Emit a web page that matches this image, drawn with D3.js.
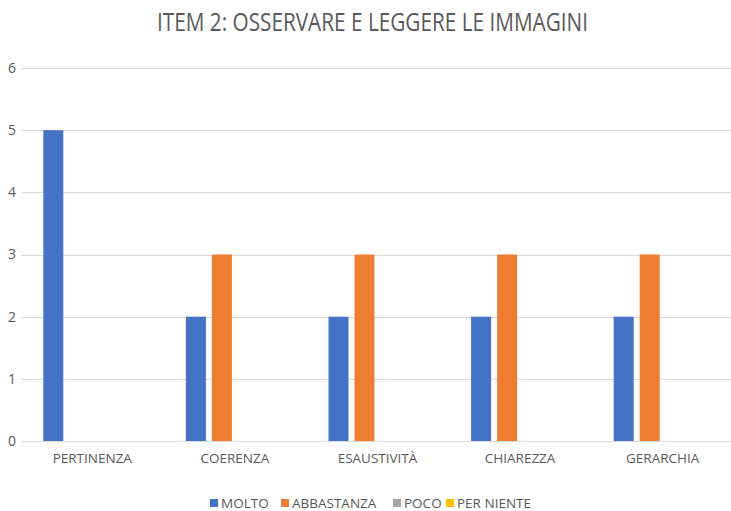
<!DOCTYPE html>
<meta charset="utf-8">
<style>
body { margin: 0; background: #fff; }
svg { display: block; }
text { font-family: "Open Sans", sans-serif; fill: #595959; }
.grid line { stroke: #d9d9d9; stroke-width: 1; shape-rendering: crispEdges; }
</style>
<svg width="731" height="511"></svg>
<script src="https://cdn.jsdelivr.net/npm/d3@7"></script>
<script>

var categories = ["PERTINENZA", "COERENZA", "ESAUSTIVITÀ", "CHIAREZZA", "GERARCHIA"];
var seriesNames = ["MOLTO", "ABBASTANZA", "POCO", "PER NIENTE"];
var molto = [5, 2, 2, 2, 2];
var abbastanza = [0, 3, 3, 3, 3];
var poco = [0, 0, 0, 0, 0];
var perNiente = [0, 0, 0, 0, 0];
var yTicks = [0, 1, 2, 3, 4, 5, 6];
var colors = ["#4472c4", "#ed7d31", "#a5a5a5", "#ffc000"];

var seriesValues = [molto, abbastanza, poco, perNiente];

var svg = d3.select("svg");

// plot area (the right side is cut off in the original)
var x = d3.scaleBand()
    .domain(categories)
    .range([21, 734]);

var xs = d3.scaleBand()
    .domain(seriesNames)
    .range([-49, 49])
    .paddingInner(6 / 26);

var y = d3.scaleLinear()
    .domain([0, 6])
    .range([441, 68]);

// condensed look of the original title font
svg.append("text")
    .attr("x", 157)
    .attr("y", 31)
    .attr("textLength", 431)
    .attr("lengthAdjust", "spacingAndGlyphs")
    .style("font-size", "25px")
    .text("ITEM 2: OSSERVARE E LEGGERE LE IMMAGINI");

// gridlines
svg.append("g")
    .attr("class", "grid")
  .selectAll("line")
  .data(yTicks).enter().append("line")
    .attr("x1", 21)
    .attr("x2", 731)
    .attr("y1", function(d) { return Math.round(y(d)) + 0.5; })
    .attr("y2", function(d) { return Math.round(y(d)) + 0.5; });

svg.append("g")
  .selectAll("text")
  .data(yTicks).enter().append("text")
    .attr("x", 16)
    .attr("y", function(d) { return y(d); })
    .attr("dy", "0.35em")
    .attr("text-anchor", "end")
    .style("font-size", "14px")
    .text(function(d) { return d; });

// bars
var group = svg.append("g")
  .selectAll("g")
  .data(categories).enter().append("g")
    .attr("transform", function(d) { return "translate(" + (x(d) + x.bandwidth() / 2) + ",0)"; });

group.selectAll("rect")
    .data(function(d, i) {
      return seriesNames.map(function(s, j) { return {series: s, value: seriesValues[j][i], color: colors[j]}; });
    })
  .enter().filter(function(d) { return d.value > 0; }).append("rect")
    .attr("x", function(d) { return xs(d.series); })
    .attr("width", xs.bandwidth())
    .attr("y", function(d) { return y(d.value); })
    .attr("height", function(d) { return y(0) - y(d.value); })
    .attr("fill", function(d) { return d.color; });

// category labels
svg.append("g")
  .selectAll("text")
  .data(categories).enter().append("text")
    .attr("x", function(d) { return x(d) + x.bandwidth() / 2; })
    .attr("y", 463)
    .attr("text-anchor", "middle")
    .style("font-size", "13.5px")
    .text(function(d) { return d; });

// legend
var legendX = [210, 281, 393, 446];
var legend = svg.append("g")
  .selectAll("g")
  .data(seriesNames).enter().append("g")
    .attr("transform", function(d, i) { return "translate(" + legendX[i] + ",503)"; });

legend.append("rect")
    .attr("x", 0)
    .attr("y", -4)
    .attr("width", 8)
    .attr("height", 8)
    .attr("fill", function(d, i) { return colors[i]; });

legend.append("text")
    .attr("x", 11)
    .attr("dy", "0.35em")
    .style("font-size", "13.5px")
    .text(function(d) { return d; });

</script>
